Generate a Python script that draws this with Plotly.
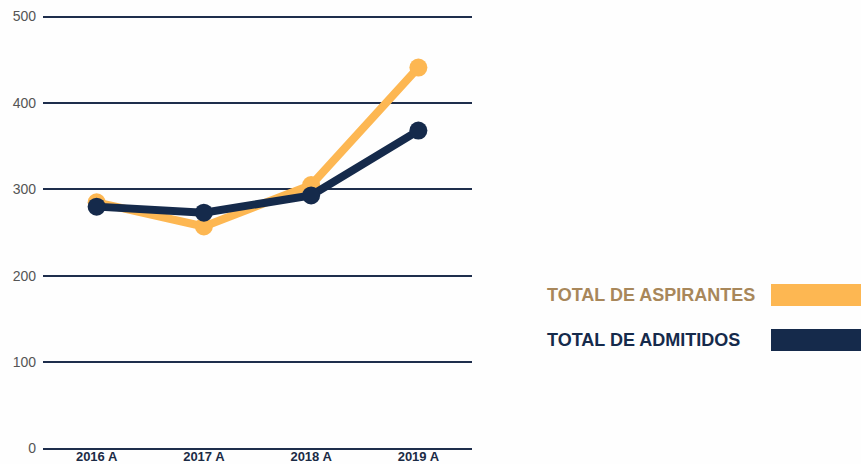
"""
Graphique : total de aspirantes et total de admitidos par année.
"""

from plotly.graph_objects import Scatter, Figure

# données
annees = ["2016 A", "2017 A", "2018 A", "2019 A"]
aspirantes = [285, 257, 305, 441]
admitidos = [280, 273, 293, 368]
y_ticks = [0, 100, 200, 300, 400, 500]

ORANGE = "#FDB752"
NAVY = "#152A4B"
GRID = "#1E2E4C"


def make_fig():
    fig = Figure()

    # orange en dessous, bleu par dessus
    fig.add_trace(Scatter(x=annees, y=aspirantes, mode="lines+markers",
                          name="TOTAL DE ASPIRANTES",
                          line=dict(color=ORANGE, width=8),
                          marker=dict(color=ORANGE, size=18)))
    fig.add_trace(Scatter(x=annees, y=admitidos, mode="lines+markers",
                          name="TOTAL DE ADMITIDOS",
                          line=dict(color=NAVY, width=8),
                          marker=dict(color=NAVY, size=18)))

    fig.update_layout(
        width=861, height=464,
        margin=dict(l=43, r=389, t=13, b=15),
        paper_bgcolor="#FEFEFE", plot_bgcolor="#FEFEFE",
        showlegend=False,
        font=dict(family="Liberation Sans, Arial, sans-serif"),
    )
    fig.update_xaxes(type="category", range=[-0.5, 3.5],
                     showgrid=False, zeroline=False, showline=False,
                     tickfont=dict(size=13, color="#1B2B45", weight="bold"),
                     ticklabelstandoff=-2, automargin=False)
    fig.update_yaxes(range=[-0.5, 504.1], tickvals=y_ticks,
                     showgrid=True, gridcolor=GRID, gridwidth=2,
                     zeroline=True, zerolinecolor=GRID, zerolinewidth=2,
                     showline=False, ticklabelstandoff=6,
                     tickfont=dict(size=14, color="#555555"),
                     automargin=False)

    # légende à droite : texte puis trait épais
    legende = [("TOTAL DE ASPIRANTES", "#A8875A", ORANGE, 295),
               ("TOTAL DE ADMITIDOS", NAVY, NAVY, 340)]
    for texte, couleur_texte, couleur_trait, y_px in legende:
        y_paper = 1 - (y_px - 13) / 436
        fig.add_annotation(text=texte, xref="paper", yref="paper",
                           x=(545 - 43) / 429, y=y_paper,
                           xanchor="left", yanchor="middle", showarrow=False,
                           font=dict(family="Liberation Sans, Arial, sans-serif",
                                     size=18, color=couleur_texte, weight="bold"))
        fig.add_shape(type="rect", xref="paper", yref="paper",
                      x0=(771 - 43) / 429, x1=(870 - 43) / 429,
                      y0=y_paper - 11 / 436, y1=y_paper + 11 / 436,
                      fillcolor=couleur_trait, line=dict(width=0))
    return fig


def main() -> None:
    fig = make_fig()
    # la page a une marge de 8 px par défaut, on l'enlève
    fig.write_html("out.html", config={"displayModeBar": False},
                   post_script="document.body.style.margin='0';")


if __name__ == "__main__":
    main()
